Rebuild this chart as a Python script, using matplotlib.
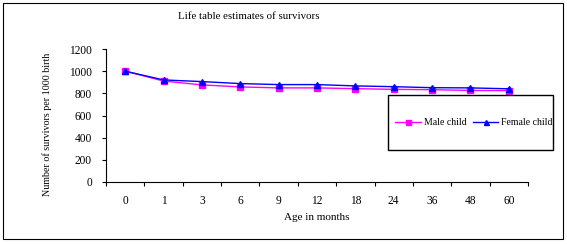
import matplotlib.pyplot as plt
from matplotlib.patches import Rectangle
import numpy as np

ages = ['0', '1', '3', '6', '9', '12', '18', '24', '36', '48', '60']
male = [1000, 911, 876, 858, 849, 849, 842, 836, 833, 826, 825]
female = [1000, 921, 906, 888, 879, 879, 867, 860, 851, 849, 841]

plt.rcParams['font.family'] = ['Liberation Serif', 'DejaVu Serif']
plt.rcParams['font.size'] = 8.3

fig = plt.figure(figsize=(5.67, 2.44), dpi=100)
ax = fig.add_axes([106/567, 1-182/244, 422/567, 133/244])

x = np.arange(len(ages))
ax.plot(x, male, color='#ff00ff', marker='s', markersize=4.5, lw=1, label='Male child')
ax.plot(x, female, color='#0000ff', marker='^', markersize=4.5, lw=1, label='Female child')

ax.set_xlim(-0.5, len(ages) - 0.5)
ax.set_ylim(0, 1200)
ax.set_yticks(range(0, 1201, 200))
ax.set_xticks(np.arange(-0.5, len(ages)), labels=[])
ax.set_xticks(x, labels=ages, minor=True)
ax.tick_params(axis='x', which='minor', length=0, pad=9)
ax.tick_params(axis='x', which='major', length=3, width=0.8)
ax.tick_params(axis='y', length=3, width=0.8, pad=7)
for s in ['top', 'right']:
    ax.spines[s].set_visible(False)
for s in ['left', 'bottom']:
    ax.spines[s].set_linewidth(0.8)

ax.set_xlabel('Age in months', labelpad=5, fontsize=8)
ax.set_ylabel('Number of survivors per 1000 birth', fontsize=7.2)
ax.yaxis.set_label_coords(-0.127, 0.432)
fig.text(178/567, 1-16.5/244, 'Life table estimates of survivors', ha='left', va='center',
         fontsize=7.85)

# legend box
fig.patches.append(Rectangle((388/567, 1-150/244), 165/567, 55/244, transform=fig.transFigure,
                             fill=False, edgecolor='black', lw=1))
leg = fig.legend(loc='center', bbox_to_anchor=(474/567, 1-123/244),
                 ncol=2, frameon=False, fontsize=7, handlelength=2.6,
                 columnspacing=0.7, handletextpad=0.3, borderpad=0, markerscale=0.8)

# outer border
fig.patches.append(Rectangle((3/567, 5/244), 560/567, 236/244, transform=fig.transFigure,
                             fill=False, edgecolor='black', lw=0.8))

fig.savefig('out.png', dpi=100)
